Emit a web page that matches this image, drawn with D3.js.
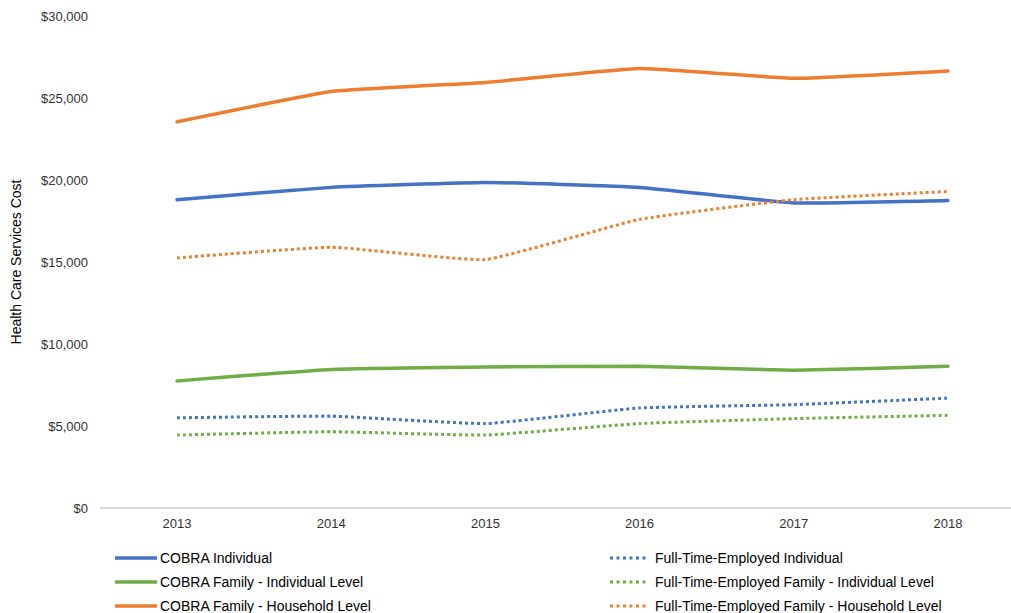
<!DOCTYPE html>
<html>
<head>
<meta charset="utf-8">
<script src="https://cdn.jsdelivr.net/npm/d3@7"></script>
<style>
  body { margin: 0; background: #fff; }
  svg text { font-family: "Liberation Sans", Arial, sans-serif; fill: #333; }
</style>
</head>
<body>
<div id="chart"></div>
<script>
// chart values
const years = ["2013", "2014", "2015", "2016", "2017", "2018"];
const cobraIndividual = [18800, 19550, 19850, 19550, 18600, 18750];
const cobraFamilyIndividual = [7750, 8450, 8600, 8650, 8400, 8650];
const cobraFamilyHousehold = [23550, 25400, 25950, 26800, 26200, 26650];
const fteIndividual = [5500, 5600, 5150, 6100, 6300, 6700];
const fteFamilyIndividual = [4450, 4650, 4450, 5150, 5450, 5650];
const fteFamilyHousehold = [15250, 15900, 15150, 17600, 18800, 19300];
const yTicks = [0, 5000, 10000, 15000, 20000, 25000, 30000];

const series = [
  { name: "COBRA Individual", values: cobraIndividual, color: "#4472C4", dotted: false },
  { name: "COBRA Family - Individual Level", values: cobraFamilyIndividual, color: "#70AD47", dotted: false },
  { name: "COBRA Family - Household Level", values: cobraFamilyHousehold, color: "#ED7D31", dotted: false },
  { name: "Full-Time-Employed Individual", values: fteIndividual, color: "#4472C4", dotted: true },
  { name: "Full-Time-Employed Family - Individual Level", values: fteFamilyIndividual, color: "#70AD47", dotted: true },
  { name: "Full-Time-Employed Family - Household Level", values: fteFamilyHousehold, color: "#ED7D31", dotted: true }
];

const width = 1011, height = 613;
const plot = { left: 100, right: 1025, top: 16, bottom: 508 };

const svg = d3.select("#chart").append("svg")
  .attr("width", width)
  .attr("height", height);

const x = d3.scalePoint()
  .domain(years)
  .range([plot.left, plot.right])
  .padding(0.5);

const y = d3.scaleLinear()
  .domain([0, 30000])
  .range([plot.bottom, plot.top]);

// y tick labels (no gridlines in the reference)
svg.append("g")
  .selectAll("text")
  .data(yTicks)
  .enter()
  .append("text")
  .attr("x", 88)
  .attr("y", (d) => y(d))
  .attr("dy", "0.35em")
  .attr("text-anchor", "end")
  .attr("font-size", 13)
  .text((d) => "$" + d3.format(",")(d));

// x axis
svg.append("line")
  .attr("x1", plot.left)
  .attr("x2", plot.right)
  .attr("y1", y(0))
  .attr("y2", y(0))
  .attr("stroke", "#ADADAD")
  .attr("stroke-width", 1.2);

svg.append("g")
  .selectAll("text")
  .data(years)
  .enter()
  .append("text")
  .attr("x", (d) => x(d))
  .attr("y", 528)
  .attr("text-anchor", "middle")
  .attr("font-size", 13)
  .text((d) => d);

// y axis title
svg.append("text")
  .attr("transform", `translate(21,${(plot.top + plot.bottom) / 2}) rotate(-90)`)
  .attr("text-anchor", "middle")
  .attr("font-size", 14)
  .style("fill", "#000")
  .text("Health Care Services Cost");

// Excel "smoothed" lines are only gently rounded at the joints
const line = d3.line()
  .x((d, i) => x(years[i]))
  .y((d) => y(d))
  .curve(d3.curveCardinal.tension(0.65));

svg.append("g")
  .selectAll("path")
  .data(series)
  .enter()
  .append("path")
  .attr("d", (d) => line(d.values))
  .attr("fill", "none")
  .attr("stroke", (d) => d.color)
  .attr("stroke-width", (d) => (d.dotted ? 3 : 3.5))
  .attr("stroke-linecap", (d) => (d.dotted ? "butt" : "round"))
  .attr("stroke-dasharray", (d) => (d.dotted ? "3 3" : null));

// legend: solid series on the left, dotted on the right
const legend = svg.append("g")
  .selectAll("g")
  .data(series)
  .enter()
  .append("g")
  .attr("transform", (d, i) => {
    const col = d.dotted ? 1 : 0;
    const row = i % 3;
    return `translate(${col ? 610 : 115},${558 + row * 24})`;
  });

legend.append("line")
  .attr("x1", 0)
  .attr("x2", (d) => (d.dotted ? 39 : 42))
  .attr("stroke", (d) => d.color)
  .attr("stroke-width", (d) => (d.dotted ? 3 : 3.5))
  .attr("stroke-dasharray", (d) => (d.dotted ? "3 3.5" : null));

legend.append("text")
  .attr("x", 45)
  .attr("dy", "0.35em")
  .attr("font-size", 14)
  .style("fill", "#000")
  .text((d) => d.name);
</script>
</body>
</html>
